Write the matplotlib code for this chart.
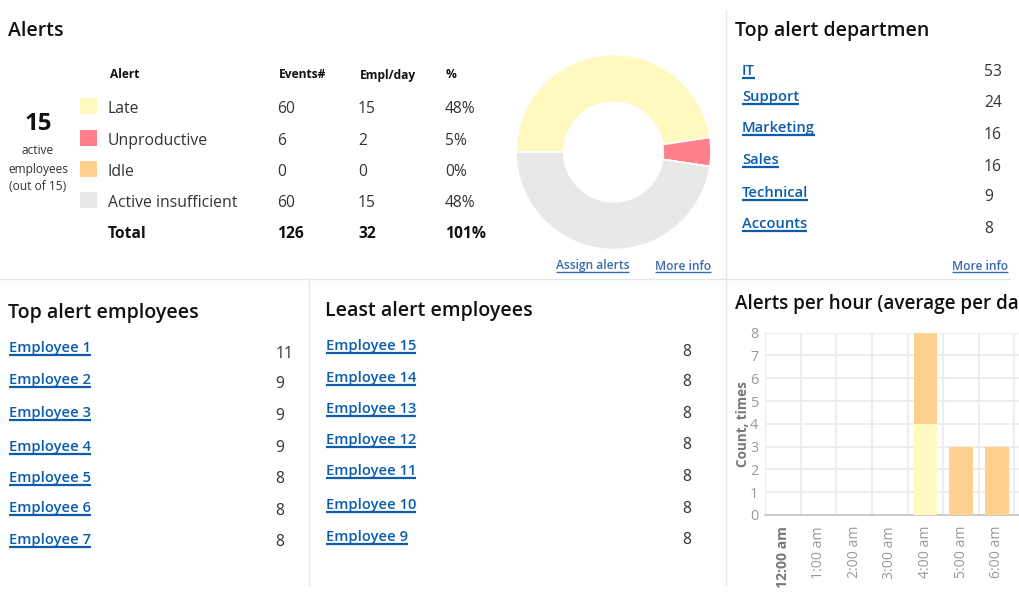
"""Alerts dashboard: summary table, donut, top lists and hourly bars."""

import matplotlib

matplotlib.use("Agg")
import matplotlib.pyplot as plt
from matplotlib.patches import Rectangle

W, H = 1020, 600

plt.rcParams["font.family"] = ["Open Sans", "DejaVu Sans"]

alert_names = ["Late", "Unproductive", "Idle", "Active insufficient"]
alert_events = [60, 6, 0, 60]
alert_empl = [15, 2, 0, 15]
alert_pct = ["48%", "5%", "0%", "48%"]
alert_colors = ["#fff9c0", "#ff808b", "#ffd090", "#e8e8e8"]
total_row = ["Total", "126", "32", "101%"]
header_row = ["Alert", "Events#", "Empl/day", "%"]

departments = ["IT", "Support", "Marketing", "Sales", "Technical", "Accounts"]
department_counts = [53, 24, 16, 16, 9, 8]

top_employees = [f"Employee {i}" for i in range(1, 8)]
top_counts = [11, 9, 9, 9, 8, 8, 8]
least_employees = [f"Employee {i}" for i in range(15, 8, -1)]
least_counts = [8, 8, 8, 8, 8, 8, 8]

hours = ["12:00 am", "1:00 am", "2:00 am", "3:00 am", "4:00 am", "5:00 am", "6:00 am", "7:00 am"]
late_per_hour = [0, 0, 0, 0, 4, 0, 0, 0]
idle_per_hour = [0, 0, 0, 0, 4, 3, 3, 0]

# row positions in pixels, the lists in the source are not evenly spaced
dept_link_y = [75, 101, 132, 164, 197, 228]
dept_count_y = [76, 107, 139, 171, 201, 233]
top_link_y = [352, 384, 417, 451, 482, 512, 544]
top_count_y = [358, 388, 420, 452, 483, 515, 546]
least_link_y = [350, 382, 413, 444, 475, 509, 541]
least_count_y = [356, 386, 418, 449, 481, 513, 544]

LINK = "#0b5cab"
SOFT_LINK = "#3a6aad"
INK = "#111111"
BODY = "#333333"
RULE = "#e6e6e6"


def px(size):
    return size * 72 / 100


fig = plt.figure(figsize=(W / 100, H / 100), dpi=100, facecolor="white")

page = fig.add_axes([0, 0, 1, 1], zorder=0)
page.set_xlim(0, W)
page.set_ylim(H, 0)
page.axis("off")


def link(x, y, label, size=14.7, color=LINK, lw=1.6, drop=3.0):
    t = page.text(x, y, label, fontsize=px(size), color=color, fontweight="semibold", va="baseline")
    box = t.get_window_extent(fig.canvas.get_renderer())
    page.plot([box.x0, box.x1], [y + drop, y + drop], color=color, lw=lw, solid_capstyle="butt")


def title(x, y, label, size=19.5):
    page.text(x, y, label, fontsize=px(size), color=INK, fontweight="semibold", va="baseline")


# dividers
page.plot([0, 1010], [279, 279], color=RULE, lw=1.0)
page.plot([726, 726], [11, 585], color=RULE, lw=1.0)
page.plot([309, 309], [279, 585], color=RULE, lw=1.0)

title(8, 36, "Alerts")
title(735, 36, "Top alert departmen")
title(8, 318, "Top alert employees")
title(325, 316, "Least alert employees")
title(735, 309, "Alerts per hour (average per da", size=18.9)

# headline figure
page.text(38, 124, "15", fontsize=px(24), fontweight="bold", color=INK, ha="center", va="center")
for y, line in zip([151, 169, 187], ["active", "employees", "(out of 15)"]):
    page.text(38, y, line, fontsize=px(12), color=BODY, ha="center", va="center")

# alerts table
columns = [108, 277, 358, 445]
for x, label, dx in zip(columns, header_row, [2, 2, 2, 1]):
    page.text(x + dx, 78.5, label, fontsize=px(12), fontweight="bold", color=INK, va="baseline")
row_y = [113, 145, 176, 207]
for y, name, events, empl, pct, color in zip(row_y, alert_names, alert_events, alert_empl, alert_pct, alert_colors):
    page.add_patch(Rectangle((80, y - 15), 17, 16, facecolor=color, edgecolor="none"))
    page.text(columns[0], y, name, fontsize=px(15.7), color=BODY, va="baseline")
    for x, cell in zip(columns[1:], [events, empl, pct]):
        page.text(x, y, str(cell), fontsize=px(15.6), color=BODY, va="baseline")
for x, cell in zip(columns, total_row):
    page.text(x, 238, cell, fontsize=px(15.6), fontweight="bold", color=INK, va="baseline")

link(556, 269.5, "Assign alerts", size=12, color=SOFT_LINK, lw=1.0, drop=2.5)
link(655, 269.5, "More info", size=12, color=SOFT_LINK, lw=1.0, drop=2.5)
link(952, 269.5, "More info", size=12, color=SOFT_LINK, lw=1.0, drop=2.5)

# link lists
for y, name in zip(dept_link_y, departments):
    link(742, y, name)
for y, count in zip(dept_count_y, department_counts):
    page.text(984, y, str(count), fontsize=px(15.6), color=BODY, va="baseline")
for y, name in zip(top_link_y, top_employees):
    link(9, y, name)
for y, count in zip(top_count_y, top_counts):
    page.text(275.5, y, str(count), fontsize=px(15.6), color=BODY, va="baseline")
for y, name in zip(least_link_y, least_employees):
    link(326, y, name)
for y, count in zip(least_count_y, least_counts):
    page.text(682.5, y, str(count), fontsize=px(15.6), color=BODY, va="baseline")

# donut, 516-710 across with its centre at y=152
donut = fig.add_axes([516 / W, 1 - 249.5 / H, 195 / W, 195 / H], zorder=1)
donut.pie(
    alert_events,
    colors=alert_colors,
    startangle=180,
    counterclock=False,
    radius=1.0,
    wedgeprops={"width": 0.49, "edgecolor": "white", "linewidth": 1.2},
)
donut.set_xlim(-1, 1)
donut.set_ylim(-1, 1)

# hourly bars, cut off by the right edge of the page
step = 35.6
left, top, bottom = 765.3, 332.7, 515.0
bars = fig.add_axes([left / W, 1 - bottom / H, (W - left) / W, (bottom - top) / H], zorder=1)
x_pos = list(range(len(hours)))
bars.bar(x_pos, late_per_hour, width=0.665, color=alert_colors[0], zorder=3)
bars.bar(x_pos, idle_per_hour, width=0.665, bottom=late_per_hour, color=alert_colors[2], zorder=3)
bars.set_xlim(-0.5, -0.5 + (W - left) / step)
bars.set_ylim(0, 8)
bars.set_yticks(range(9))
bars.set_xticks([i - 0.5 for i in x_pos], minor=True)
visible = x_pos[:7]
bars.set_xticks(visible)
bars.set_xticklabels(hours[:7], rotation=90, fontsize=px(14), color="#999999")
bars.get_xticklabels()[0].set_fontweight("bold")
bars.get_xticklabels()[0].set_color("#777777")
bars.tick_params(axis="x", which="both", length=0, pad=8)
bars.tick_params(axis="y", length=0, pad=5, labelsize=px(14.5), labelcolor="#999999")
bars.grid(True, axis="y", color="#ececec", lw=1.3, zorder=0)
bars.grid(True, axis="x", which="minor", color="#ececec", lw=1.3, zorder=0)
bars.grid(False, axis="x", which="major")
for side in ["top", "right"]:
    bars.spines[side].set_visible(False)
bars.spines["left"].set_color("#ececec")
bars.spines["bottom"].set_color("#c4c4c4")
bars.spines["bottom"].set_linewidth(1.2)
page.text(743, 424, "Count, times", rotation=90, fontsize=px(13.5), fontweight="bold",
          color="#777777", ha="center", va="center")

fig.savefig("out.png", dpi=100)
plt.close(fig)
